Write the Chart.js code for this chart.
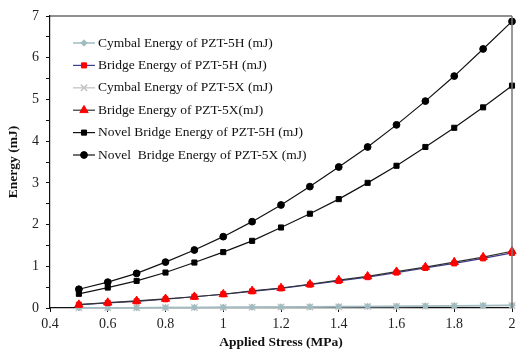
<!DOCTYPE html>
<html>
<head>
<meta charset="utf-8">
<script src="https://cdn.jsdelivr.net/npm/chart.js@4/dist/chart.umd.min.js"></script>
<style>
html,body{margin:0;padding:0;background:#fff;}
#wrap{width:526px;height:357px;position:relative;}
</style>
</head>
<body>
<div id="wrap"><canvas id="c" width="526" height="357"></canvas></div>
<script>
const stress = [0.5,0.6,0.7,0.8,0.9,1.0,1.1,1.2,1.3,1.4,1.5,1.6,1.7,1.8,1.9,2.0];
const cymbal5H = [0.004,0.006,0.008,0.011,0.014,0.017,0.021,0.024,0.029,0.033,0.038,0.044,0.049,0.055,0.061,0.068];
const bridge5H = [0.08,0.12,0.16,0.21,0.27,0.33,0.40,0.47,0.56,0.65,0.74,0.85,0.96,1.07,1.19,1.32];
const cymbal5X = [0.004,0.005,0.007,0.010,0.012,0.015,0.018,0.022,0.025,0.029,0.034,0.038,0.043,0.049,0.054,0.060];
const bridge5X = [0.08,0.13,0.17,0.22,0.27,0.33,0.41,0.48,0.57,0.67,0.76,0.87,0.98,1.10,1.22,1.36];
const novel5H = [0.34,0.49,0.65,0.85,1.09,1.34,1.61,1.93,2.26,2.61,3.00,3.41,3.86,4.32,4.81,5.33];
const novel5X = [0.45,0.62,0.83,1.10,1.39,1.71,2.07,2.47,2.91,3.38,3.86,4.39,4.96,5.56,6.21,6.87];
const seriesLabels = [
  'Cymbal Energy of PZT-5H (mJ)',
  'Bridge Energy of PZT-5H (mJ)',
  'Cymbal Energy of PZT-5X (mJ)',
  'Bridge Energy of PZT-5X(mJ)',
  'Novel Bridge Energy of PZT-5H (mJ)',
  'Novel  Bridge Energy of PZT-5X (mJ)'
];
const xTickMin = 0.4, xTickMax = 2, xTickStep = 0.2;
const yTickMin = 0, yTickMax = 7;

const pts = arr => arr.map((v,i)=>({x:stress[i], y:v}));
const FONT = "'Liberation Serif', 'Times New Roman', serif";

function ds(label, data, color, pcolor, style, radius, order, width){
  return {label, data: pts(data), borderColor: color, backgroundColor: pcolor,
    pointBackgroundColor: pcolor, pointBorderColor: pcolor, pointStyle: style,
    pointRadius: radius, pointHoverRadius: radius, borderWidth: width||1.2,
    pointBorderWidth: 1, clip: false, order, tension: 0};
}
const datasets = [
  ds(seriesLabels[0], cymbal5H, '#9fbcc2', '#9fbcc2', 'rectRot', 3.2, 5, 1.5),
  ds(seriesLabels[1], bridge5H, '#3b3b8c', '#ff0000', 'rect', 3.6, 2),
  ds(seriesLabels[2], cymbal5X, '#cccccc', '#c4c4c4', 'crossRot', 4.5, 6, 1.5),
  ds(seriesLabels[3], bridge5X, '#333333', '#ff0000', 'triangle', 4.8, 1),
  ds(seriesLabels[4], novel5H, '#111111', '#000000', 'rect', 3.6, 3),
  ds(seriesLabels[5], novel5X, '#111111', '#000000', 'circle', 3.4, 4)
];
datasets[2].pointBorderWidth = 1.5;

const framePlugin = {
  id: 'frame',
  afterDraw(chart){
    const {ctx, chartArea:a} = chart;
    ctx.save();
    ctx.lineWidth = 1.2;
    ctx.strokeStyle = '#222';
    ctx.beginPath(); ctx.moveTo(a.left, a.top); ctx.lineTo(a.right, a.top); ctx.stroke();
    ctx.strokeStyle = '#777';
    ctx.lineWidth = 1.5;
    ctx.beginPath(); ctx.moveTo(a.right, a.top); ctx.lineTo(a.right, a.bottom); ctx.stroke();
    // legend inside plot
    const x0 = a.left + 23, x1 = a.left + 45, tx = a.left + 48;
    let y = 43;
    ctx.font = "13.5px " + FONT;
    ctx.textBaseline = 'middle';
    ctx.textAlign = 'left';
    chart.data.datasets.forEach((d) => {
      ctx.strokeStyle = d.borderColor;
      ctx.lineWidth = d.borderWidth;
      ctx.beginPath(); ctx.moveTo(x0, y); ctx.lineTo(x1, y); ctx.stroke();
      ctx.fillStyle = d.pointBackgroundColor;
      ctx.strokeStyle = d.pointBorderColor;
      ctx.lineWidth = d.pointBorderWidth;
      Chart.helpers.drawPoint(ctx, {pointStyle: d.pointStyle, radius: d.pointRadius, borderWidth: d.pointBorderWidth, rotation: 0}, (x0+x1)/2, y);
      ctx.fillStyle = '#111';
      ctx.fillText(d.label, tx, y);
      y += 22.4;
    });
    ctx.restore();
  }
};

new Chart(document.getElementById('c'), {
  type: 'line',
  data: {datasets},
  options: {
    responsive: false,
    animation: false,
    devicePixelRatio: 1,
    layout: {padding: {left: 0, right: 14, top: 16, bottom: 0}},
    plugins: {legend: {display: false}, tooltip: {enabled: false}},
    scales: {
      x: {
        type: 'linear', min: xTickMin, max: xTickMax,
        afterFit(s){ s.height = 49; },
        ticks: {stepSize: xTickStep, color: '#222', font: {family: FONT, size: 14}, padding: 4,
          callback: v => String(Number(v.toFixed(1)))},
        grid: {drawOnChartArea: false, drawTicks: true, tickLength: 4, color: '#111', tickColor: '#111'},
        border: {color: '#111', width: 1.2},
        title: {display: true, text: 'Applied Stress (MPa)', color: '#111',
          font: {family: FONT, size: 13.5, weight: 'bold'}, padding: {top: 0, bottom: 6}}
      },
      y: {
        type: 'linear', min: yTickMin, max: yTickMax,
        afterFit(s){ s.width = 50; },
        ticks: {stepSize: 0.5, color: '#222', font: {family: FONT, size: 14}, padding: 7,
          callback: v => Number.isInteger(v) ? String(v) : ''},
        grid: {drawOnChartArea: false, drawTicks: true, tickLength: 4, color: '#111', tickColor: '#111'},
        border: {color: '#111', width: 1.2},
        title: {display: true, text: 'Energy (mJ)', color: '#111',
          font: {family: FONT, size: 13.5, weight: 'bold'}, padding: {top: 5, bottom: 0}}
      }
    }
  },
  plugins: [framePlugin]
});
</script>
</body>
</html>
